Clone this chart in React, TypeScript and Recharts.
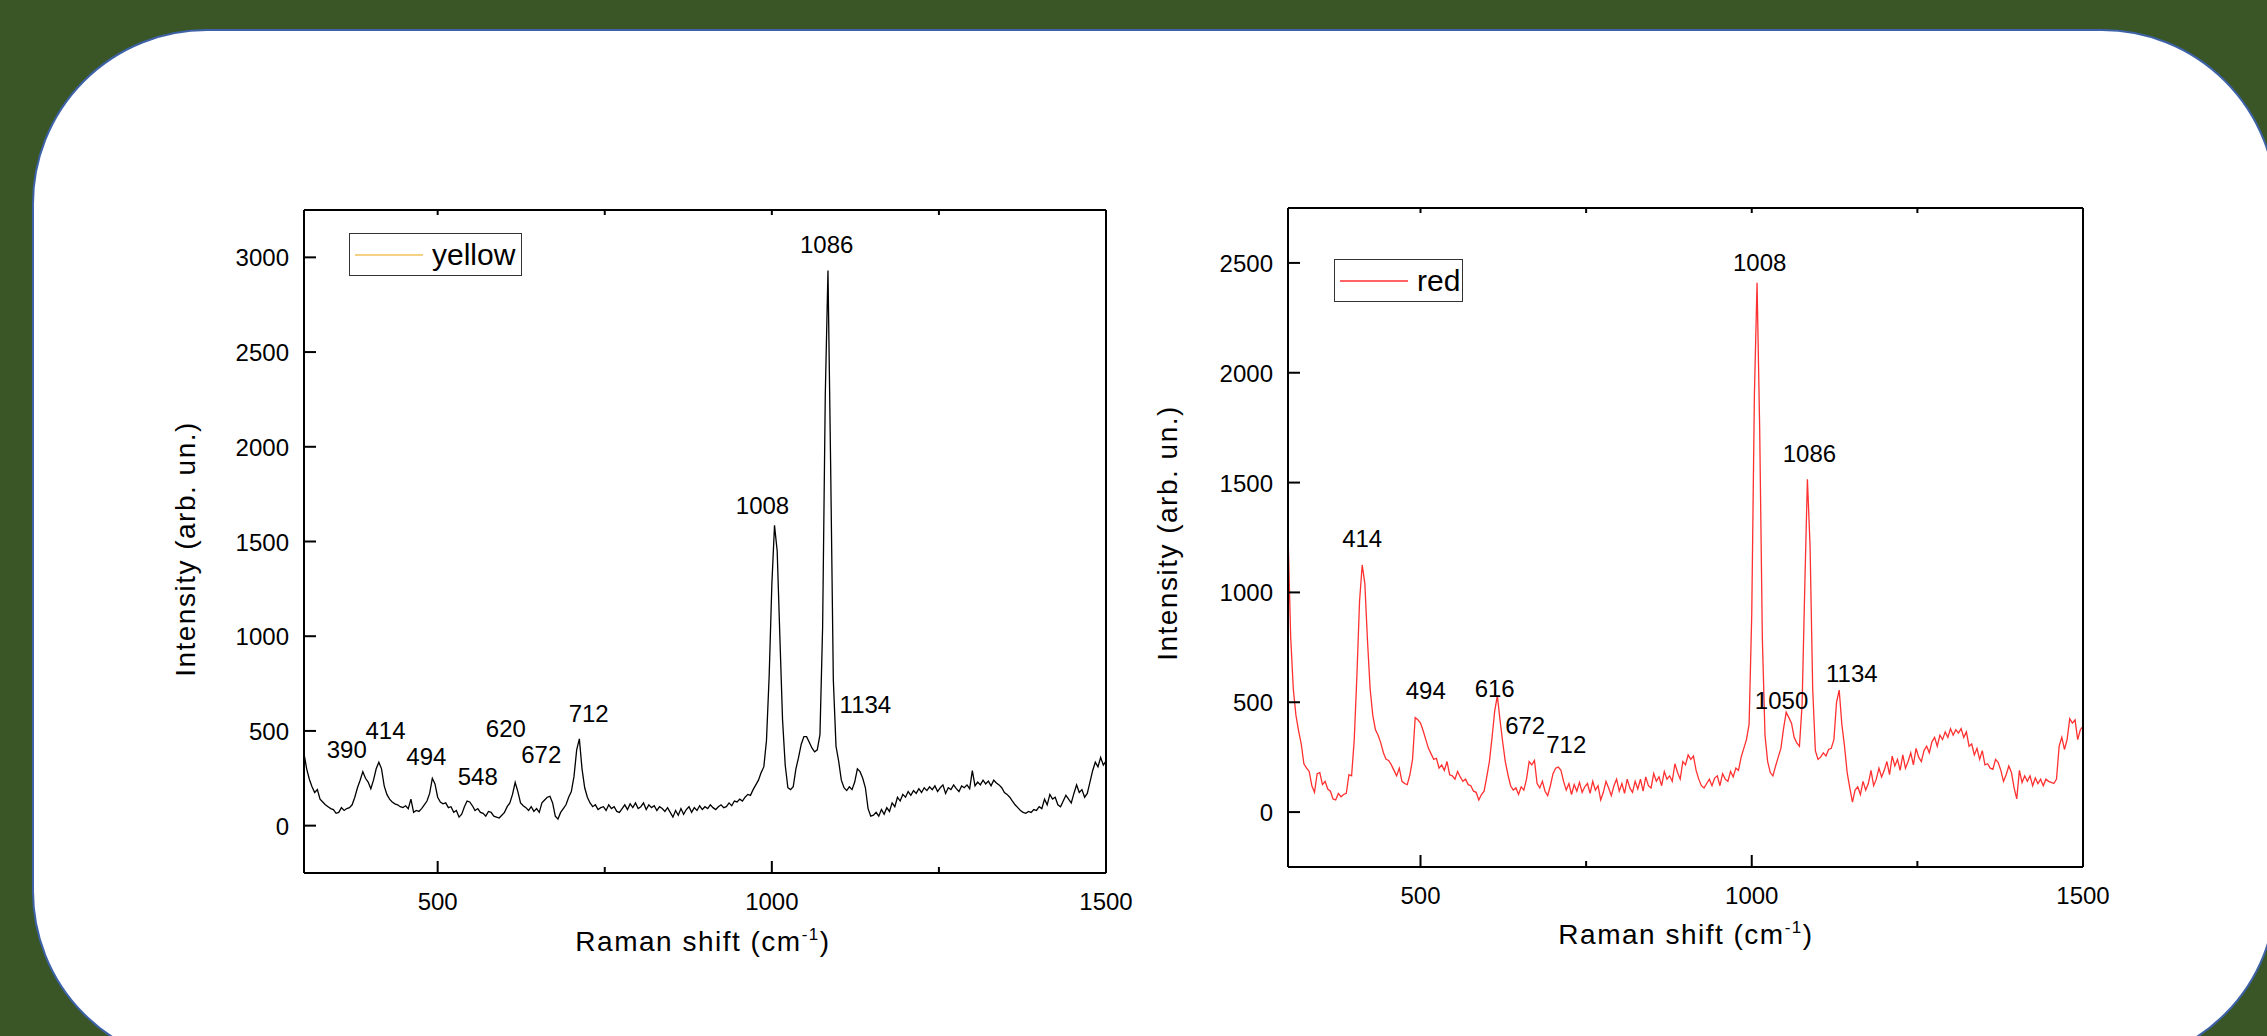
import React from 'react';
import { LineChart, Line, XAxis, YAxis, Legend, ReferenceDot } from 'recharts';

const FONT = '"Liberation Sans", Arial, Helvetica, sans-serif';

// Raman shift sampling grid (cm-1), one point every 4 cm-1
const ramanShift = [
  300, 304, 308, 312, 316, 320, 324, 328, 332, 336, 340, 344, 348, 352, 356, 360, 364, 368, 372, 376, 380, 384, 388, 392, 396,
  400, 404, 408, 412, 416, 420, 424, 428, 432, 436, 440, 444, 448, 452, 456, 460, 464, 468, 472, 476, 480, 484, 488, 492, 496,
  500, 504, 508, 512, 516, 520, 524, 528, 532, 536, 540, 544, 548, 552, 556, 560, 564, 568, 572, 576, 580, 584, 588, 592, 596,
  600, 604, 608, 612, 616, 620, 624, 628, 632, 636, 640, 644, 648, 652, 656, 660, 664, 668, 672, 676, 680, 684, 688, 692, 696,
  700, 704, 708, 712, 716, 720, 724, 728, 732, 736, 740, 744, 748, 752, 756, 760, 764, 768, 772, 776, 780, 784, 788, 792, 796,
  800, 804, 808, 812, 816, 820, 824, 828, 832, 836, 840, 844, 848, 852, 856, 860, 864, 868, 872, 876, 880, 884, 888, 892, 896,
  900, 904, 908, 912, 916, 920, 924, 928, 932, 936, 940, 944, 948, 952, 956, 960, 964, 968, 972, 976, 980, 984, 988, 992, 996,
  1000, 1004, 1008, 1012, 1016, 1020, 1024, 1028, 1032, 1036, 1040, 1044, 1048, 1052, 1056, 1060, 1064, 1068, 1072, 1076, 1080, 1084, 1088, 1092, 1096,
  1100, 1104, 1108, 1112, 1116, 1120, 1124, 1128, 1132, 1136, 1140, 1144, 1148, 1152, 1156, 1160, 1164, 1168, 1172, 1176, 1180, 1184, 1188, 1192, 1196,
  1200, 1204, 1208, 1212, 1216, 1220, 1224, 1228, 1232, 1236, 1240, 1244, 1248, 1252, 1256, 1260, 1264, 1268, 1272, 1276, 1280, 1284, 1288, 1292, 1296,
  1300, 1304, 1308, 1312, 1316, 1320, 1324, 1328, 1332, 1336, 1340, 1344, 1348, 1352, 1356, 1360, 1364, 1368, 1372, 1376, 1380, 1384, 1388, 1392, 1396,
  1400, 1404, 1408, 1412, 1416, 1420, 1424, 1428, 1432, 1436, 1440, 1444, 1448, 1452, 1456, 1460, 1464, 1468, 1472, 1476, 1480, 1484, 1488, 1492, 1496,
  1500,
];

// intensity (arb. un.) of the "yellow" sample
const yellowIntensity = [
  380, 300, 245, 205, 175, 190, 140, 125, 110, 100, 90, 85, 65, 70, 95, 80, 90, 95, 110, 150, 200, 240, 285, 250, 230,
  195, 240, 300, 335, 300, 210, 165, 140, 125, 115, 110, 100, 95, 105, 90, 140, 70, 80, 75, 90, 110, 130, 170, 250, 220,
  150, 125, 115, 120, 95, 100, 70, 80, 45, 60, 100, 130, 125, 105, 80, 90, 70, 65, 50, 75, 70, 50, 45, 40, 55,
  70, 100, 120, 165, 228, 180, 120, 105, 95, 80, 100, 75, 90, 70, 120, 135, 150, 155, 120, 50, 35, 70, 90, 110, 150,
  180, 260, 400, 458, 300, 200, 150, 120, 100, 110, 85, 95, 100, 80, 110, 90, 100, 75, 70, 90, 110, 85, 115, 95, 120,
  90, 100, 120, 85, 110, 95, 105, 80, 100, 90, 75, 95, 70, 45, 80, 55, 90, 60, 85, 100, 70, 95, 80, 105, 85,
  100, 90, 110, 95, 85, 100, 110, 95, 100, 120, 105, 130, 125, 140, 130, 150, 165, 160, 190, 215, 240, 280, 310, 450, 790,
  1270, 1585, 1450, 1000, 560, 320, 200, 190, 205, 300, 360, 430, 470, 470, 440, 410, 390, 400, 480, 1050, 2280, 2930, 1900, 770, 420,
  340, 240, 200, 185, 205, 190, 230, 300, 285, 250, 200, 90, 50, 55, 70, 50, 85, 60, 95, 75, 120, 100, 150, 130, 165,
  150, 180, 160, 185, 170, 195, 175, 200, 185, 205, 190, 210, 180, 200, 215, 170, 200, 190, 215, 195, 180, 210, 200, 215, 195,
  290, 210, 230, 215, 240, 220, 235, 210, 240, 225, 215, 200, 175, 165, 150, 130, 110, 95, 80, 70, 65, 75, 70, 85, 80,
  100, 90, 140, 110, 165, 140, 150, 110, 100, 130, 160, 140, 120, 170, 215, 175, 190, 150, 170, 230, 290, 335, 310, 360, 320,
  340,
];

// intensity (arb. un.) of the "red" sample
const redIntensity = [
  1270, 800, 560, 440, 370, 310, 220, 200, 185, 120, 90, 175, 180, 125, 140, 105, 95, 60, 55, 85, 70, 80, 85, 170, 165,
  330, 620, 960, 1125, 1040, 780, 560, 440, 375, 350, 315, 270, 240, 235, 215, 190, 165, 200, 140, 130, 125, 170, 240, 430, 420,
  405, 370, 330, 290, 265, 240, 245, 200, 215, 190, 230, 170, 165, 150, 185, 160, 140, 150, 125, 120, 95, 90, 55, 80, 95,
  160, 230, 340, 460, 530, 420, 320, 230, 170, 120, 100, 110, 80, 115, 100, 150, 230, 215, 235, 130, 110, 140, 95, 75, 120,
  175, 200, 205, 190, 140, 100, 130, 80, 125, 95, 135, 90, 115, 130, 85, 140, 100, 120, 55, 90, 140, 110, 75, 120, 150,
  95, 130, 85, 150, 110, 90, 140, 105, 150, 95, 160, 120, 110, 175, 140, 160, 120, 185, 150, 165, 140, 220, 180, 150, 230,
  215, 260, 240, 255, 190, 150, 120, 110, 130, 150, 120, 155, 165, 120, 175, 150, 140, 185, 160, 200, 190, 250, 290, 330, 400,
  900, 1900, 2410, 1740, 790, 350, 230, 180, 165, 210, 250, 290, 380, 455, 430, 405, 340, 315, 300, 490, 1020, 1515, 1215, 560, 280,
  240, 250, 270, 255, 285, 290, 330, 500, 555, 400, 300, 180, 110, 45, 100, 115, 80, 140, 100, 130, 190, 120, 150, 200, 160,
  190, 230, 170, 255, 210, 240, 190, 260, 200, 230, 270, 215, 290, 250, 230, 280, 300, 270, 320, 340, 300, 350, 330, 365, 340,
  380, 350, 375, 360, 380, 340, 365, 300, 310, 260, 290, 240, 280, 215, 220, 200, 195, 240, 225, 190, 140, 170, 210, 180, 110,
  60, 190, 135, 165, 140, 165, 120, 155, 130, 150, 120, 150, 140, 135, 130, 150, 300, 340, 285, 330, 425, 405, 420, 330, 375,
  390,
];

const xTicks = [500, 750, 1000, 1250, 1500];
const xLabelTicks = [500, 1000, 1500];
const yellowYTicks = [0, 500, 1000, 1500, 2000, 2500, 3000];
const redYTicks = [0, 500, 1000, 1500, 2000, 2500];

type Peak = { text: string; shift: number; intensity: number };

// peak annotations, anchored at the centre of each label (data units)
const yellowPeaks: Peak[] = [
  { text: '390', shift: 364, intensity: 403 },
  { text: '414', shift: 422, intensity: 500 },
  { text: '494', shift: 483, intensity: 367 },
  { text: '548', shift: 560, intensity: 257 },
  { text: '620', shift: 602, intensity: 512 },
  { text: '672', shift: 655, intensity: 378 },
  { text: '712', shift: 726, intensity: 590 },
  { text: '1008', shift: 986, intensity: 1688 },
  { text: '1086', shift: 1082, intensity: 3070 },
  { text: '1134', shift: 1140, intensity: 638 },
];

const redPeaks: Peak[] = [
  { text: '414', shift: 412, intensity: 1244 },
  { text: '494', shift: 508, intensity: 552 },
  { text: '616', shift: 612, intensity: 564 },
  { text: '672', shift: 658, intensity: 395 },
  { text: '712', shift: 720, intensity: 307 },
  { text: '1008', shift: 1012, intensity: 2503 },
  { text: '1086', shift: 1087, intensity: 1633 },
  { text: '1050', shift: 1045, intensity: 510 },
  { text: '1134', shift: 1151, intensity: 631 },
];

const spectra = ramanShift.map((shift, i) => ({
  shift,
  yellow: yellowIntensity[i],
  red: redIntensity[i],
}));

const BottomTick = ({ x, y, payload }: any) => {
  const major = xLabelTicks.includes(payload.value);
  return (
    <g>
      <line x1={x} y1={y} x2={x} y2={y - (major ? 12 : 6)} stroke="#000" strokeWidth={2} />
      {major && (
        <text x={x} y={y + 37} textAnchor="middle" fontFamily={FONT} fontSize={24} fill="#000">
          {payload.value}
        </text>
      )}
    </g>
  );
};

const TopTick = ({ x, y }: any) => (
  <line x1={x} y1={y} x2={x} y2={y + 5} stroke="#000" strokeWidth={2} />
);

const LeftTick = ({ x, y, payload }: any) => (
  <g>
    <line x1={x} y1={y} x2={x + 12} y2={y} stroke="#000" strokeWidth={2} />
    <text x={x - 15} y={y + 9} textAnchor="end" fontFamily={FONT} fontSize={24} fill="#000">
      {payload.value}
    </text>
  </g>
);

const LegendBox = ({ name, color, width }: { name: string; color: string; width: number }) => (
  <div
    style={{
      boxSizing: 'border-box',
      width,
      height: 43,
      border: '1.5px solid #333',
      background: '#fff',
      display: 'flex',
      alignItems: 'center',
      paddingLeft: 5,
      fontFamily: FONT,
      fontSize: 30,
      color: '#000',
    }}
  >
    <svg width={68} height={4} style={{ display: 'block' }}>
      <line x1={0} y1={2} x2={68} y2={2} stroke={color} strokeWidth={1.5} />
    </svg>
    <span style={{ marginLeft: 9, lineHeight: 1 }}>{name}</span>
  </div>
);

interface PanelProps {
  left: number;
  width: number;
  margin: { top: number; right: number; bottom: number; left: number };
  yAxisWidth: number;
  dataKey: 'yellow' | 'red';
  stroke: string;
  yDomain: [number, number];
  yTicks: number[];
  peaks: Peak[];
  legendName: string;
  legendColor: string;
  legendPos: { left: number; top: number; width: number };
  yTitle: { x: number; y: number };
  xTitle: { x: number; y: number };
}

const SpectrumPanel = (p: PanelProps) => (
  <div style={{ position: 'absolute', left: p.left, top: 0 }}>
    <LineChart width={p.width} height={1000} data={spectra} margin={p.margin}>
      <XAxis
        dataKey="shift"
        type="number"
        domain={[300, 1500]}
        allowDataOverflow
        ticks={xTicks}
        interval={0}
        height={60}
        tickSize={0}
        tickMargin={0}
        tickLine={false}
        tick={<BottomTick />}
        axisLine={{ stroke: '#000', strokeWidth: 2 }}
        label={{
          content: () => (
            <text
              x={p.xTitle.x}
              y={p.xTitle.y}
              textAnchor="middle"
              fontFamily={FONT}
              fontSize={28}
              letterSpacing={1.5}
              fill="#000"
            >
              <tspan>Raman shift (cm</tspan>
              <tspan dy={-11} fontSize={17}>-1</tspan>
              <tspan dy={11}>)</tspan>
            </text>
          ),
        }}
      />
      {/* mirrored top frame with minor ticks */}
      <XAxis
        xAxisId="top"
        orientation="top"
        dataKey="shift"
        type="number"
        domain={[300, 1500]}
        allowDataOverflow
        ticks={xTicks}
        interval={0}
        height={1}
        tickSize={0}
        tickMargin={0}
        tickLine={false}
        tick={<TopTick />}
        axisLine={{ stroke: '#000', strokeWidth: 2 }}
      />
      <YAxis
        type="number"
        domain={p.yDomain}
        allowDataOverflow
        ticks={p.yTicks}
        interval={0}
        width={p.yAxisWidth}
        tickSize={0}
        tickMargin={0}
        tickLine={false}
        tick={<LeftTick />}
        axisLine={{ stroke: '#000', strokeWidth: 2 }}
        label={{
          content: () => (
            <text
              x={p.yTitle.x}
              y={p.yTitle.y}
              transform={`rotate(-90 ${p.yTitle.x} ${p.yTitle.y})`}
              textAnchor="middle"
              dominantBaseline="central"
              fontFamily={FONT}
              fontSize={28}
              letterSpacing={1.5}
              fill="#000"
            >
              Intensity (arb. un.)
            </text>
          ),
        }}
      />
      {/* right frame line */}
      <YAxis
        yAxisId="right"
        orientation="right"
        type="number"
        domain={p.yDomain}
        allowDataOverflow
        width={1}
        tick={false}
        tickLine={false}
        axisLine={{ stroke: '#000', strokeWidth: 2 }}
      />
      <Legend
        layout="horizontal"
        verticalAlign="middle"
        align="center"
        wrapperStyle={{ left: p.legendPos.left, top: p.legendPos.top, width: p.legendPos.width, height: 43 }}
        content={() => <LegendBox name={p.legendName} color={p.legendColor} width={p.legendPos.width} />}
      />
      <Line
        type="linear"
        dataKey={p.dataKey}
        stroke={p.stroke}
        strokeWidth={1.3}
        dot={false}
        activeDot={false}
        isAnimationActive={false}
      />
      {p.peaks.map((pk) => (
        <ReferenceDot
          key={pk.text + pk.shift}
          x={pk.shift}
          y={pk.intensity}
          r={0}
          shape={(s: any) => (
            <text
              x={s.cx}
              y={s.cy}
              textAnchor="middle"
              dominantBaseline="central"
              fontFamily={FONT}
              fontSize={24}
              fill="#000"
            >
              {pk.text}
            </text>
          )}
        />
      ))}
    </LineChart>
  </div>
);

export default function App() {
  return (
    <div
      style={{
        position: 'absolute',
        left: 0,
        top: 0,
        width: 2267,
        height: 1036,
        overflow: 'hidden',
        background: '#3a5626',
      }}
    >
      <div
        style={{
          position: 'absolute',
          left: 32,
          top: 29,
          width: 2245,
          height: 1037,
          boxSizing: 'border-box',
          border: '2px solid #3d62a8',
          borderRadius: 175,
          background: '#fff',
        }}
      />
      <SpectrumPanel
        left={0}
        width={1140}
        margin={{ top: 209, right: 33, bottom: 67, left: 154 }}
        yAxisWidth={150}
        dataKey="yellow"
        stroke="#000"
        yDomain={[-250, 3250]}
        yTicks={yellowYTicks}
        peaks={yellowPeaks}
        legendName="yellow"
        legendColor="#f4c25a"
        legendPos={{ left: 349, top: 233, width: 173 }}
        yTitle={{ x: 185, y: 549 }}
        xTitle={{ x: 703, y: 951 }}
      />
      <SpectrumPanel
        left={1140}
        width={1000}
        margin={{ top: 207, right: 56, bottom: 73, left: 0 }}
        yAxisWidth={148}
        dataKey="red"
        stroke="#ff3030"
        yDomain={[-250, 2750]}
        yTicks={redYTicks}
        peaks={redPeaks}
        legendName="red"
        legendColor="#ff3030"
        legendPos={{ left: 194, top: 259, width: 129 }}
        yTitle={{ x: 27, y: 533 }}
        xTitle={{ x: 546, y: 944 }}
      />
    </div>
  );
}
